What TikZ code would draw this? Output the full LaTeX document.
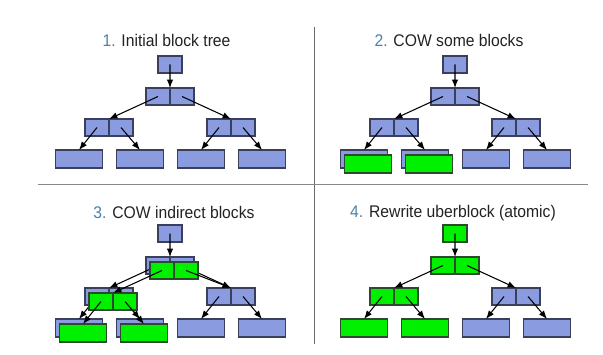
\documentclass[tikz,border=0pt]{standalone}
\usepackage{fontspec}
\setmainfont{Liberation Sans}
\usepackage{tikz}
\usetikzlibrary{positioning,arrows.meta}
\definecolor{BlockBlue}{HTML}{8A9BE0}
\definecolor{BlockEdge}{HTML}{3A3F5C}
\definecolor{CowGreen}{HTML}{00F000}
\definecolor{CowEdge}{HTML}{2E4A2E}
\definecolor{StepNo}{HTML}{4A82A8}
\definecolor{Ink}{HTML}{222222}
\definecolor{Rule}{HTML}{6A6A6A}

\tikzset{
	half/.style={draw=BlockEdge, fill=BlockBlue, line width=0.75pt,
		minimum width=0.6cm, minimum height=0.425cm, inner sep=0pt, outer sep=0pt},
	wide/.style={half, minimum width=1.175cm, minimum height=0.45cm},
	cow/.style={fill=CowGreen, draw=CowEdge},
	ptr/.style={-{Latex[length=6pt,width=4.6pt]}, line width=0.75pt, draw=black},
	title/.style={font=\fontsize{12}{14}\selectfont, text=Ink, inner sep=0pt, anchor=base},
}
\newcommand{\stepno}[1]{\textcolor{StepNo}{#1}}
\newcommand{\titletext}[1]{\scalebox{0.93}[1]{#1}}

% #1 prefix, #2 shift, #3 uberblock, #4 first level, #5 second level left, #6 #7 left data
\newcommand{\cowtree}[7]{%
	\begin{scope}[shift={#2}]
		\node[half,#3] (#1ub) at (170,64.5) {};
		\node[half,#4] (#1i1l) at (158,96.5) {};
		\node[half,#4,right=0pt of #1i1l] (#1i1r) {};
		\node[half,#5] (#1i2ll) at (97,127.5) {};
		\node[half,#5,right=0pt of #1i2ll] (#1i2lr) {};
		\node[half] (#1i2rl) at (219,127.5) {};
		\node[half,right=0pt of #1i2rl] (#1i2rr) {};
		\node[wide,#6] (#1d1) at (79,159) {};
		\node[wide,#7] (#1d2) at (140,159) {};
		\node[wide] (#1d3) at (201,159) {};
		\node[wide] (#1d4) at (262,159) {};
		\draw[ptr] (#1ub.center) -- (#1i1l.north east);
		\draw[ptr] (#1i1l.center) -- (#1i2ll.north east);
		\draw[ptr] (#1i1r.center) -- (#1i2rl.north east);
		\draw[ptr] (#1i2ll.center) -- (#1d1.north);
		\draw[ptr] (#1i2lr.center) -- (#1d2.north);
		\draw[ptr] (#1i2rl.center) -- (#1d3.north);
		\draw[ptr] (#1i2rr.center) -- (#1d4.north);
	\end{scope}}

\begin{document}
\begin{tikzpicture}[x=0.025cm, y=-0.025cm]
	\useasboundingbox (0,0) rectangle (603,354);

	% panel rules
	\draw[Rule, line width=0.7pt] (314,27) -- (314,344);
	\draw[Rule!80, line width=0.7pt] (38,184) -- (588,184);

	% titles
	\node[title] (t1) at (166.5,47) {\titletext{\stepno{1.} Initial block tree}};
	\node[title] (t2) at (449,47) {\titletext{\stepno{2.} COW some blocks}};
	\node[title] (t3) at (174,218) {\titletext{\stepno{3.} COW indirect blocks}};
	\node[title] (t4) at (453,217) {\titletext{\stepno{4.} Rewrite uberblock (atomic)}};

	% 1. initial tree
	\cowtree{a}{(0,0)}{}{}{}{}{}

	% 2. copy the data blocks
	\cowtree{b}{(285,0)}{}{}{}{}{}
	\begin{scope}[shift={(289,5)}]
		\node[wide,cow] (bn1) at (79,159) {};
		\node[wide,cow] (bn2) at (140,159) {};
	\end{scope}

	% 3. copy the indirect blocks
	\cowtree{c}{(0,169)}{}{}{}{}{}
	\begin{scope}[shift={(4,174)}]
		\node[half,cow] (cn1l) at (158,96.5) {};
		\node[half,cow,right=0pt of cn1l] (cn1r) {};
		\node[half,cow] (cn2l) at (97,127.5) {};
		\node[half,cow,right=0pt of cn2l] (cn2r) {};
		\node[wide,cow] (cn3) at (79,159) {};
		\node[wide,cow] (cn4) at (140,159) {};
	\end{scope}
	\draw[ptr] (cn1l.center) -- (cn2l.north east);
	\draw[ptr] (cn1r.center) -- (ci2rl.north east);
	\draw[ptr] (cn2l.center) -- (cn3.north);
	\draw[ptr] (cn2r.center) -- (cn4.north);

	% 4. new uberblock
	\cowtree{d}{(285,169)}{cow}{cow}{cow}{cow}{cow}
\end{tikzpicture}
\end{document}
